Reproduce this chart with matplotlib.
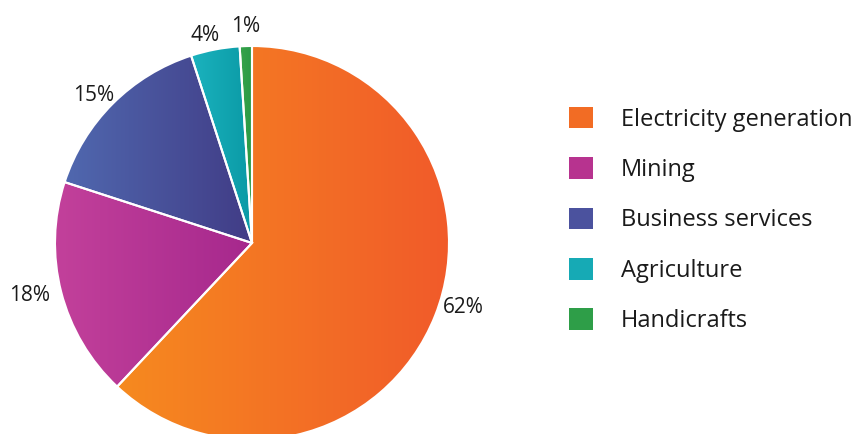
import numpy as np
import matplotlib.pyplot as plt
from matplotlib.colors import to_rgb

plt.rcParams['font.family'] = ['Open Sans', 'DejaVu Sans']

sectors = ["Electricity generation", "Mining", "Business services", "Agriculture", "Handicrafts"]
shares = [62, 18, 15, 4, 1]
pct_labels = ["62%", "18%", "15%", "4%", "1%"]

# flat colour (legend) and gradient left/right colours for each slice
base_colors = ["#F26C24", "#B7338F", "#4B529E", "#16AAB5", "#2E9E48"]
grad_left = ["#F68A1F", "#C3419B", "#5068AF", "#1BB3BE", "#37A44A"]
grad_right = ["#F15A2A", "#A6288D", "#413C86", "#0A99A5", "#2A9846"]

# small angular nudges (degrees) for the percentage labels
label_nudge = [4.5, -1, 2, 2, 0]
label_dist = [1.12, 1.16, 1.10, 1.08, 1.10]

fig = plt.figure(figsize=(8.58, 4.34), dpi=100)
W, H = 858, 434
cx, cy, r = 252, 243, 197
ax = fig.add_axes([(cx - r) / W, (H - cy - r) / H, 2 * r / W, 2 * r / H])

wedges, _ = ax.pie(shares, colors=base_colors, startangle=90, counterclock=False,
                   radius=1, frame=True)

for w, cl, cr in zip(wedges, grad_left, grad_right):
    verts = w.get_path().vertices
    x0, x1 = verts[:, 0].min(), verts[:, 0].max()
    y0, y1 = verts[:, 1].min(), verts[:, 1].max()
    t = np.linspace(0, 1, 256)[None, :, None]
    img = (1 - t) * np.array(to_rgb(cl)) + t * np.array(to_rgb(cr))
    im = ax.imshow(img, extent=(x0, x1, y0, y1), aspect='auto', zorder=2,
                   interpolation='bilinear')
    im.set_clip_path(w)

# white separators on top
ax.pie(shares, startangle=90, counterclock=False, radius=1,
       wedgeprops=dict(facecolor='none', edgecolor='white', linewidth=1.5, zorder=3))
ax.set_xlim(-1, 1)
ax.set_ylim(-1, 1)
ax.set_aspect('equal')
ax.axis('off')

# percentage labels
start = 90
total = sum(shares)
for share, lab, nudge, d in zip(shares, pct_labels, label_nudge, label_dist):
    mid = start - 360 * share / total / 2
    ang = np.deg2rad(mid + nudge)
    ax.text(d * np.cos(ang), d * np.sin(ang), lab, ha='center', va='center',
            fontsize=15, color='#1A1A1A', clip_on=False)
    start -= 360 * share / total

leg = fig.legend(wedges, sectors, loc='center left', bbox_to_anchor=(569 / W, 0.493),
                 frameon=False, fontsize=17, handlelength=1.03, handleheight=1.03,
                 handletextpad=1.18, labelspacing=1.08, borderpad=0, borderaxespad=0)
for t in leg.get_texts():
    t.set_color('#1A1A1A')

fig.savefig('out.png', dpi=100)
